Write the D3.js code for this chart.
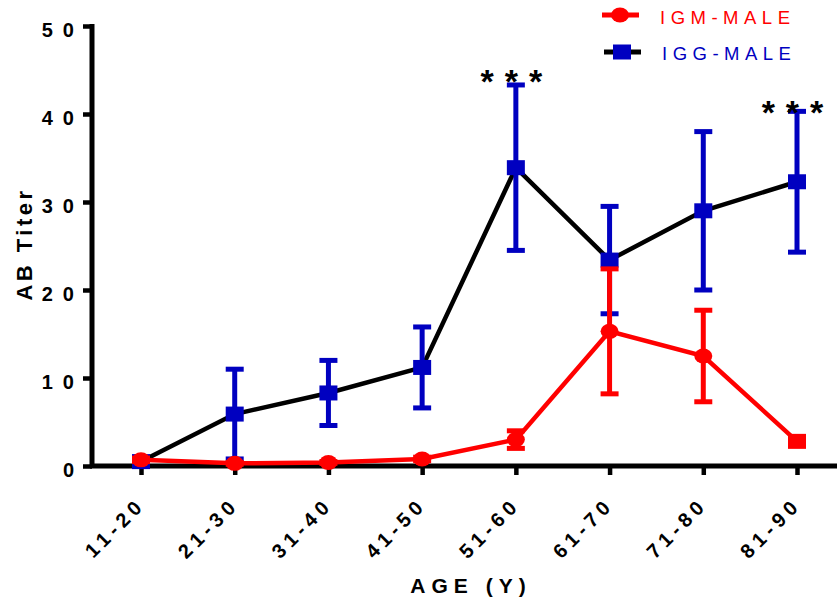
<!DOCTYPE html>
<html>
<head>
<meta charset="utf-8">
<script src="https://cdn.jsdelivr.net/npm/d3@7"></script>
<style>
  body { margin: 0; background: #fff; }
  svg { display: block; font-family: "Liberation Sans", Arial, sans-serif; }
</style>
</head>
<body>
<svg id="chart" width="837" height="599"></svg>
<script>
// Age groups on the x axis
const ageGroups = ['11-20', '21-30', '31-40', '41-50', '51-60', '61-70', '71-80', '81-90'];

// IgM male: mean and error (+/-)
const igmMean = [0.7, 0.3, 0.4, 0.8, 3.0, 15.3, 12.5, 2.8];
const igmErr  = [0.2, 0.1, 0.1, 0.2, 1.0, 7.1, 5.2, 0.3];

// IgG male: mean and error (+/-)
const iggMean = [0.5, 5.9, 8.3, 11.2, 33.9, 23.4, 29.0, 32.3];
const iggErr  = [0.3, 5.1, 3.7, 4.6, 9.4, 6.1, 9.0, 8.0];

const yTicks = [0, 10, 20, 30, 40, 50];

// significance marks (value = baseline height in titer units)
const stars = [{ group: '51-60', value: 42.4, text: '***' },
               { group: '81-90', value: 38.9, text: '***' }];

const RED = '#ff0000', BLUE = '#0000c0';

const svg = d3.select('#chart');

const x = d3.scalePoint().domain(ageGroups).range([141, 797]);
const y = d3.scaleLinear().domain([0, 50]).range([466, 26]);

const axisLeft = 92, axisRight = 837;

// ---- axes
const yAxisG = svg.append('g')
    .attr('transform', `translate(${axisLeft},0)`)
    .call(d3.axisLeft(y).tickValues(yTicks).tickSize(9).tickSizeOuter(0));
yAxisG.select('.domain').remove();
yAxisG.selectAll('.tick line').attr('stroke', '#000').attr('stroke-width', 4.5);
yAxisG.selectAll('.tick text')
    .attr('fill', '#000')
    .attr('x', -8).attr('dy', '0.5em')
    .style('font-size', '20px')
    .style('font-weight', 'bold')
    .style('letter-spacing', '10px');
svg.append('line')
    .attr('x1', axisLeft).attr('x2', axisLeft)
    .attr('y1', y(50) - 2).attr('y2', y(0) + 2)
    .attr('stroke', '#000').attr('stroke-width', 5);

const xAxisG = svg.append('g')
    .attr('transform', `translate(0,${y(0)})`)
    .call(d3.axisBottom(x).tickSize(9).tickSizeOuter(0));
xAxisG.select('.domain').remove();
xAxisG.selectAll('.tick line').attr('stroke', '#000').attr('stroke-width', 4.5);
xAxisG.selectAll('.tick text')
    .attr('fill', '#000')
    .attr('x', 0).attr('y', 0).attr('dy', '0.35em')
    .attr('transform', 'translate(0,35) rotate(-45)')
    .style('text-anchor', 'end')
    .style('font-size', '20px')
    .style('font-weight', 'bold')
    .style('letter-spacing', '5px');
svg.append('line')
    .attr('x1', axisLeft - 2).attr('x2', axisRight)
    .attr('y1', y(0)).attr('y2', y(0))
    .attr('stroke', '#000').attr('stroke-width', 5);

// axis titles
svg.append('text')
    .attr('transform', `translate(32,244) rotate(-90)`)
    .attr('text-anchor', 'middle')
    .style('font-size', '22px').style('font-weight', 'bold').style('letter-spacing', '3.5px')
    .text('AB Titer');

svg.append('text')
    .attr('x', 471).attr('y', 593)
    .attr('text-anchor', 'middle')
    .style('font-size', '21px').style('font-weight', 'bold').style('letter-spacing', '6px')
    .text('AGE (Y)');

// ---- series helpers
const line = d3.line().x(d => x(d.g)).y(d => y(d.v));

function rows(mean, err) {
    return ageGroups.map((g, i) => ({ g: g, v: mean[i], e: err[i] }));
}

function errorBars(data, color) {
    const gb = svg.append('g');
    const bars = gb.selectAll('g').data(data).enter().append('g');
    bars.append('line')
        .attr('x1', d => x(d.g)).attr('x2', d => x(d.g))
        .attr('y1', d => y(d.v + d.e)).attr('y2', d => y(Math.max(0, d.v - d.e)))
        .attr('stroke', color).attr('stroke-width', 5);
    bars.append('line')
        .attr('x1', d => x(d.g) - 9).attr('x2', d => x(d.g) + 9)
        .attr('y1', d => y(d.v + d.e)).attr('y2', d => y(d.v + d.e))
        .attr('stroke', color).attr('stroke-width', 5);
    bars.append('line')
        .attr('x1', d => x(d.g) - 9).attr('x2', d => x(d.g) + 9)
        .attr('y1', d => y(Math.max(0, d.v - d.e))).attr('y2', d => y(Math.max(0, d.v - d.e)))
        .attr('stroke', color).attr('stroke-width', 5);
}

// ---- IgG (black line, blue squares)
const igg = rows(iggMean, iggErr);
svg.append('path').datum(igg)
    .attr('d', line).attr('fill', 'none')
    .attr('stroke', '#000').attr('stroke-width', 4.5);
errorBars(igg, BLUE);
svg.append('g').selectAll('rect').data(igg).enter().append('rect')
    .attr('x', d => x(d.g) - 9).attr('y', d => y(d.v) - 7.5)
    .attr('width', 18).attr('height', 15)
    .attr('fill', BLUE);

// ---- IgM (red line, red circles; the last group is drawn as a square)
const igm = rows(igmMean, igmErr);
svg.append('path').datum(igm)
    .attr('d', line).attr('fill', 'none')
    .attr('stroke', RED).attr('stroke-width', 4.5);
errorBars(igm, RED);
svg.append('g').selectAll('ellipse').data(igm.filter(d => d.g !== '81-90')).enter().append('ellipse')
    .attr('cx', d => x(d.g)).attr('cy', d => y(d.v))
    .attr('rx', 9).attr('ry', 7.5)
    .attr('fill', RED);
svg.append('g').selectAll('rect').data(igm.filter(d => d.g === '81-90')).enter().append('rect')
    .attr('x', d => x(d.g) - 9).attr('y', d => y(d.v) - 7.5)
    .attr('width', 18).attr('height', 15)
    .attr('fill', RED);

// ---- significance
svg.append('g').selectAll('text').data(stars).enter().append('text')
    .attr('x', d => x(d.group) + 1).attr('y', d => y(d.value))
    .attr('text-anchor', 'middle')
    .style('font-size', '34px').style('font-weight', 'bold').style('letter-spacing', '11px')
    .text(d => d.text);

// ---- legend
const legend = svg.append('g');
legend.append('line').attr('x1', 602).attr('x2', 639).attr('y1', 15).attr('y2', 15)
    .attr('stroke', RED).attr('stroke-width', 5);
legend.append('ellipse').attr('cx', 620).attr('cy', 15).attr('rx', 9).attr('ry', 7.5).attr('fill', RED);
legend.append('text').attr('x', 660).attr('y', 24)
    .attr('fill', RED).style('font-size', '18.5px').style('letter-spacing', '5.5px')
    .text('IGM-MALE');

legend.append('line').attr('x1', 604).attr('x2', 641).attr('y1', 52).attr('y2', 52)
    .attr('stroke', '#000').attr('stroke-width', 5);
legend.append('rect').attr('x', 613).attr('y', 44.5).attr('width', 18).attr('height', 15).attr('fill', BLUE);
legend.append('text').attr('x', 662).attr('y', 60)
    .attr('fill', BLUE).style('font-size', '18.5px').style('letter-spacing', '5.5px')
    .text('IGG-MALE');
</script>
</body>
</html>
